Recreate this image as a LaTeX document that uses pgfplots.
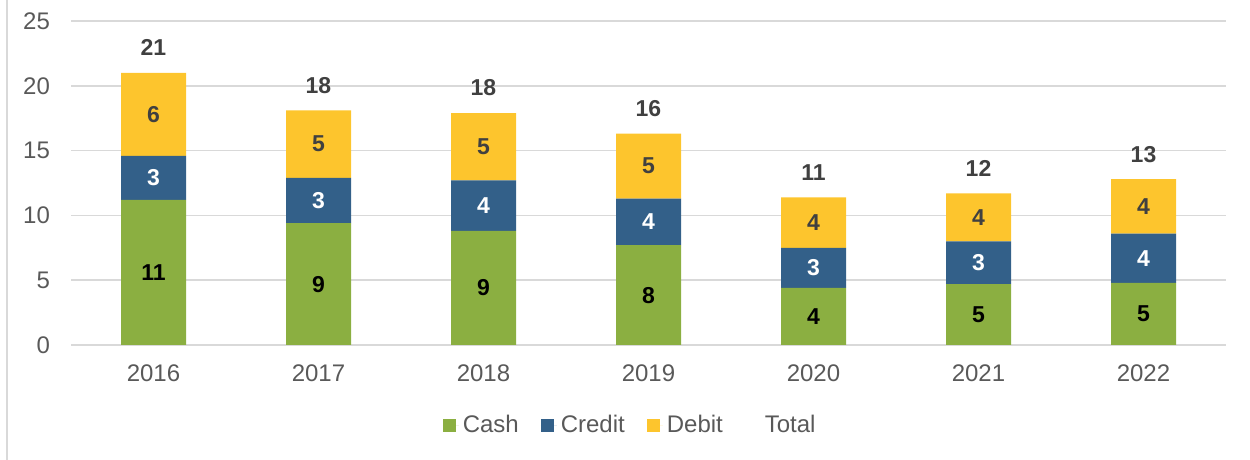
\documentclass[border=0pt]{standalone}
\usepackage{pgfplots}
\pgfplotsset{compat=1.18}
\usepackage{pgfplotstable}
\usepackage{fontspec}
\setmainfont{Liberation Sans}
\definecolor{cashc}{HTML}{8BAF41}
\definecolor{credc}{HTML}{336089}
\definecolor{debc}{HTML}{FDC52D}
\definecolor{gridc}{HTML}{D9D9D9}
\definecolor{txtc}{HTML}{595959}
\definecolor{lblc}{HTML}{404040}
\pgfplotstableread{
x cash credit debit cl rl dl tl
0 11.2 3.4 6.4 11 3 6 21
1 9.4 3.5 5.2 9 3 5 18
2 8.8 3.9 5.2 9 4 5 18
3 7.7 3.6 5.0 8 4 5 16
4 4.4 3.1 3.9 4 3 4 11
5 4.7 3.3 3.7 5 3 4 12
6 4.8 3.8 4.2 5 4 4 13
}\data
\begin{document}
\begin{tikzpicture}[x=1pt,y=1pt]
\path[use as bounding box] (0,0) rectangle (625,230);
\draw[gridc, line width=0.75pt] (3.5,0) -- (3.5,230);
\pgfplotsset{base/.style={scale only axis, width=577.5pt, height=162pt,
  at={(35.5pt,57.5pt)}, anchor=south west,
  xmin=-0.5, xmax=6.5, ymin=0, ymax=25}}
\begin{axis}[base, ybar stacked, bar width=32.5pt,
  axis line style={draw=none}, major tick length=0pt,
  ytick={0,5,...,25}, ymajorgrids, grid style={gridc, line width=0.75pt},
  xtick=data, xticklabels={2016,2017,2018,2019,2020,2021,2022},
  tick label style={font=\fontsize{12}{14}\selectfont, text=txtc},
  /pgf/number format/assume math mode=true,
  yticklabel style={xshift=-7pt},
  xticklabel style={yshift=-6.5pt},
  legend columns=-1,
  legend style={at={(0.485,-0.247)}, anchor=center, draw=none, fill=none,
    font=\fontsize{12}{14}\selectfont, text=txtc,
    /tikz/every even column/.append style={column sep=9pt}},
  legend image code/.code={\path (0pt,0pt) -- (8pt,0pt);\path[#1] (0pt,-3.25pt) rectangle (6.5pt,3.25pt);},
]
\addplot[fill=cashc, draw=none] table[x=x, y=cash] {\data};
\addlegendentry{Cash}
\addplot[fill=credc, draw=none] table[x=x, y=credit] {\data};
\addlegendentry{Credit}
\addplot[fill=debc, draw=none] table[x=x, y=debit] {\data};
\addlegendentry{Debit}
\addplot[fill=none, draw=none] table[x=x, y expr=0] {\data};
\addlegendentry{Total}
\end{axis}
\begin{axis}[base, hide axis, clip=false]
\addplot[draw=none, mark=none, nodes near coords, point meta=explicit symbolic,
  every node near coord/.append style={anchor=center, font=\bfseries\fontsize{11.5}{13}\selectfont, text=black}]
  table[x=x, y expr=\thisrow{cash}/2, meta=cl] {\data};
\addplot[draw=none, mark=none, nodes near coords, point meta=explicit symbolic,
  every node near coord/.append style={anchor=center, font=\bfseries\fontsize{11.5}{13}\selectfont, text=white}]
  table[x=x, y expr=\thisrow{cash}+\thisrow{credit}/2, meta=rl] {\data};
\addplot[draw=none, mark=none, nodes near coords, point meta=explicit symbolic,
  every node near coord/.append style={anchor=center, font=\bfseries\fontsize{11.5}{13}\selectfont, text=lblc}]
  table[x=x, y expr=\thisrow{cash}+\thisrow{credit}+\thisrow{debit}/2, meta=dl] {\data};
\addplot[draw=none, mark=none, nodes near coords, point meta=explicit symbolic,
  every node near coord/.append style={anchor=center, yshift=12.5pt, font=\bfseries\fontsize{11.5}{13}\selectfont, text=lblc}]
  table[x=x, y expr=\thisrow{cash}+\thisrow{credit}+\thisrow{debit}, meta=tl] {\data};
\end{axis}
\end{tikzpicture}
\end{document}
